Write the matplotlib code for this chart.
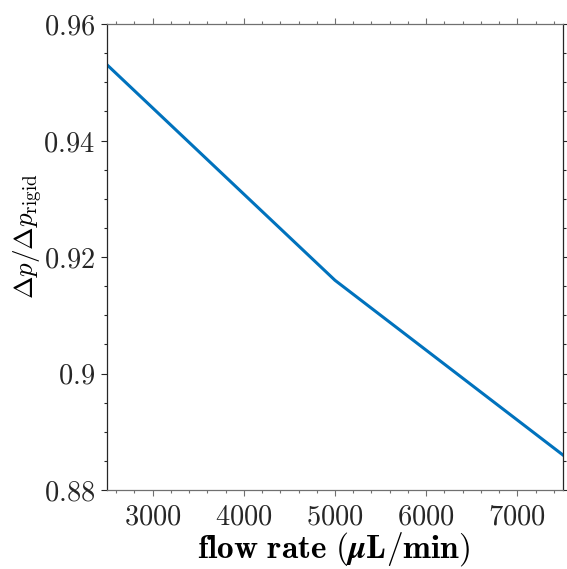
import matplotlib
matplotlib.use("Agg")
import matplotlib.pyplot as plt
from matplotlib.ticker import MultipleLocator

plt.rcParams['mathtext.fontset'] = 'cm'
plt.rcParams['font.family'] = 'serif'
plt.rcParams['font.serif'] = ['DejaVu Serif']

flow_rate = [2500, 5000, 7500]
dp_ratio = [0.953, 0.916, 0.886]
xticks = [3000, 4000, 5000, 6000, 7000]
yticks = [0.88, 0.90, 0.92, 0.94, 0.96]
ytick_labels = ['0.88', '0.9', '0.92', '0.94', '0.96']

fig = plt.figure(figsize=(5.67, 5.69), dpi=100)
ax = fig.add_axes([107/567, 1-490/569, (563-107)/567, (490-24)/569])
ax.plot(flow_rate, dp_ratio, color='#0072BD', lw=2.2)
ax.set_xlim(2500, 7500)
ax.set_ylim(0.88, 0.96)
ax.set_xticks(xticks)
ax.set_xticklabels([f'${t}$' for t in xticks])
ax.set_yticks(yticks)
ax.set_yticklabels([f'${t}$' for t in ytick_labels])
ax.xaxis.set_minor_locator(MultipleLocator(200))
ax.yaxis.set_minor_locator(MultipleLocator(0.005))
ax.tick_params(which='both', direction='out', top=True, right=True, labelsize=20.5)
ax.tick_params(axis='x', which='both', colors='#707070', labelcolor='#262626', pad=5)
ax.tick_params(axis='y', which='both', colors='#262626', pad=4)
ax.tick_params(which='major', length=4.5, width=0.8)
ax.tick_params(which='minor', length=2.5, width=0.8)
ax.spines['left'].set_color('#262626')
ax.spines['right'].set_color('#262626')
ax.spines['top'].set_color('#707070')
ax.spines['bottom'].set_color('#707070')
for s in ax.spines.values():
    s.set_linewidth(0.9)
ax.set_xlabel(r'$\mathbf{flow\ rate\ (}\boldsymbol{\mu}\mathbf{L/min)}$', fontsize=24)
ax.xaxis.set_label_coords(0.496, -0.085)
ax.set_ylabel(r'$\Delta p/\Delta p_{\mathrm{rigid}}$', fontsize=19.5)
ax.yaxis.set_label_coords(-0.135, 0.545)
fig.savefig('out.png', dpi=100)
